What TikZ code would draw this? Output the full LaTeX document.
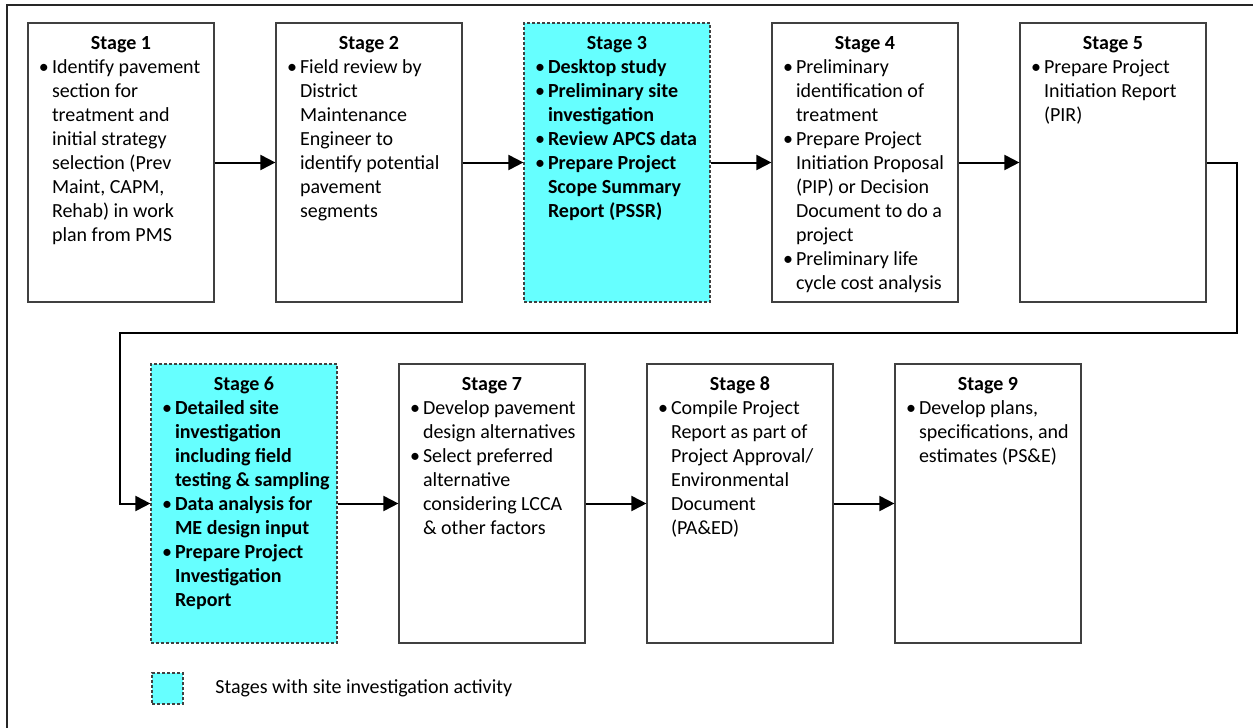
\documentclass[tikz,border=0pt]{standalone}
\usepackage{fontspec}
\setmainfont{Carlito}
\usepackage{enumitem}
\usetikzlibrary{arrows.meta}

\definecolor{sitecyan}{RGB}{102,255,255}
\definecolor{boxline}{RGB}{64,64,64}

\tikzset{
    stagebox/.style={draw=boxline, line width=0.6pt, fill=white, inner sep=0pt},
    sitebox/.style={stagebox, fill=sitecyan, dash pattern=on 1.5pt off 1pt},
    flow/.style={line width=1pt, -{Triangle[length=7.5pt, width=7.5pt]}},
    frameline/.style={line width=0.8pt, draw=black!85},
}

% box content: optional font switch, stage number, items
\newcommand{\stagetext}[3][]{%
    \parbox[t][139.5pt][t]{93pt}{\vspace*{5pt}%
        \centering\textbf{Stage #2}\strut\par\raggedright
        \begin{itemize}[nosep, leftmargin=12pt, labelindent=5.5pt, labelwidth=6.5pt, labelsep=0pt, align=left]#1
            #3
        \end{itemize}}}

\begin{document}
\begin{tikzpicture}[x=0.5pt, y=-0.5pt, font=\fontsize{10}{12}\selectfont]
    \useasboundingbox (0,0) rectangle (1253,728);

    % outer frame (only top and left edges are in view)
    \draw[frameline] (7,728) -- (7,5) -- (1253,5);

    % TOP ROW
    \node[stagebox] (s1) at (121,162.5) {\stagetext{1}{%
        \item Identify pavement\\ section for\\ treatment and\\ initial strategy\\ selection (Prev\\ Maint, CAPM,\\ Rehab) in work\\ plan from PMS}};
    \node[stagebox] (s2) at (369,162.5) {\stagetext{2}{%
        \item Field review by\\ District\\ Maintenance\\ Engineer to\\ identify potential\\ pavement\\ segments}};
    \node[sitebox] (s3) at (617,162.5) {\stagetext[\bfseries]{3}{%
        \item Desktop study
        \item Preliminary site\\ investigation
        \item Review APCS data
        \item Prepare Project\\ Scope Summary\\ Report (PSSR)}};
    \node[stagebox] (s4) at (865,162.5) {\stagetext{4}{%
        \item Preliminary\\ identification of\\ treatment
        \item Prepare Project\\ Initiation Proposal\\ (PIP) or Decision\\ Document to do a\\ project
        \item Preliminary life\\ cycle cost analysis}};
    \node[stagebox] (s5) at (1113,162.5) {\stagetext{5}{%
        \item Prepare Project\\ Initiation Report\\ (PIR)}};

    % BOTTOM ROW
    \node[sitebox] (s6) at (244,503.5) {\stagetext[\bfseries]{6}{%
        \item Detailed site\\ investigation\\ including field\\ testing \& sampling
        \item Data analysis for\\ ME design input
        \item Prepare Project\\ Investigation\\ Report}};
    \node[stagebox] (s7) at (492,503.5) {\stagetext{7}{%
        \item Develop pavement\\ design alternatives
        \item Select preferred\\ alternative\\ considering LCCA\\ \& other factors}};
    \node[stagebox] (s8) at (740,503.5) {\stagetext{8}{%
        \item Compile Project\\ Report as part of\\ Project Approval/\\ Environmental\\ Document\\ (PA\&ED)}};
    \node[stagebox] (s9) at (988,503.5) {\stagetext{9}{%
        \item Develop plans,\\ specifications, and\\ estimates (PS\&E)}};

    % connectors
    \draw[flow] (s1.east) -- (s2.west);
    \draw[flow] (s2.east) -- (s3.west);
    \draw[flow] (s3.east) -- (s4.west);
    \draw[flow] (s4.east) -- (s5.west);
    \coordinate (wrapR) at (1237,333);
    \coordinate (wrapL) at (120,333);
    \draw[flow] (s5.east) -| (wrapR) -- (wrapL) |- (s6.west);
    \draw[flow] (s6.east) -- (s7.west);
    \draw[flow] (s7.east) -- (s8.west);
    \draw[flow] (s8.east) -- (s9.west);

    % legend
    \node[sitebox, minimum size=15.5pt] (key) at (167.5,688.5) {};
    \node[anchor=west, inner sep=0pt] (keytext) at (215,688.5) {Stages with site investigation activity};
\end{tikzpicture}
\end{document}
